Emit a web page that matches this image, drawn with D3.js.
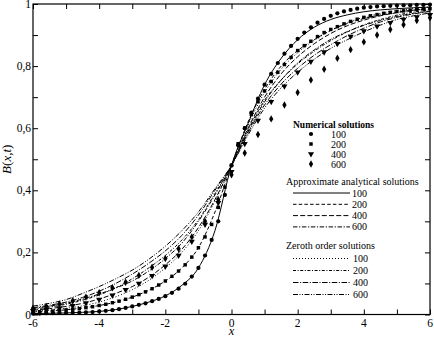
<!DOCTYPE html>
<html><head><meta charset="utf-8">
<script src="https://cdn.jsdelivr.net/npm/d3@7"></script>
<style>body{margin:0;background:#fff}svg{display:block}text{font-family:"Liberation Serif","Times New Roman",serif;fill:#000}</style>
</head><body><svg id="c" width="434" height="337"></svg>
<script>
// ---- data ----
const xTicks = [-6,-4,-2,0,2,4,6];
const yTicks = [0,0.2,0.4,0.6,0.8,1];
const yTickLabels = ["0","0,2","0,4","0,6","0,8","1"];
const times = ["100","200","400","600"];

const xLine = [-6,-5.5,-5,-4.5,-4,-3.5,-3,-2.5,-2,-1.5,-1,-0.5,0,0.5,1,1.5,2,2.5,3,3.5,4,4.5,5,5.5,6];
const approx100 = [.003,.004,.005,.007,.010,.016,.026,.040,.06,.094,.15,.27,.48,.615,.74,.825,.885,.925,.95,.965,.975,.981,.985,.988,.99];
const approx200 = [.008,.011,.015,.021,.029,.040,.056,.078,.108,.15,.215,.33,.48,.62,.725,.80,.85,.885,.915,.937,.953,.965,.974,.98,.985];
const approx400 = [.014,.019,.026,.036,.050,.068,.090,.12,.16,.21,.28,.37,.48,.60,.70,.775,.83,.872,.905,.93,.948,.962,.972,.98,.985];
const approx600 = [.020,.027,.036,.050,.066,.085,.108,.14,.18,.23,.30,.385,.48,.59,.685,.755,.81,.852,.886,.911,.931,.947,.96,.97,.977];
const zeroth100 = [.010,.014,.020,.028,.040,.057,.080,.11,.15,.20,.27,.365,.48,.61,.715,.79,.843,.883,.915,.94,.957,.97,.979,.985,.99];
const zeroth200 = [.017,.024,.033,.046,.063,.086,.115,.15,.19,.24,.305,.39,.48,.595,.69,.755,.807,.848,.882,.91,.933,.95,.964,.974,.981];
const zeroth400 = [.022,.030,.040,.055,.075,.10,.13,.165,.205,.255,.32,.40,.48,.585,.675,.742,.793,.835,.869,.898,.922,.942,.957,.968,.976];
const zeroth600 = [.027,.036,.048,.068,.09,.115,.143,.178,.22,.27,.33,.405,.48,.578,.665,.73,.78,.822,.857,.885,.91,.932,.95,.962,.971];

const xFine = [-6,-5.8,-5.6,-5.4,-5.2,-5,-4.8,-4.6,-4.4,-4.2,-4,-3.8,-3.6,-3.4,-3.2,-3,-2.8,-2.6,-2.4,-2.2,-2,-1.8,-1.6,-1.4,-1.2,-1,-0.8,-0.6,-0.4,-0.2,0,0.2,0.4,0.6,0.8,1,1.2,1.4,1.6,1.8,2,2.2,2.4,2.6,2.8,3,3.2,3.4,3.6,3.8,4,4.2,4.4,4.6,4.8,5,5.2,5.4,5.6,5.8,6];
const num100 = [.003,.003,.004,.004,.005,.005,.006,.006,.007,.008,.010,.012,.014,.017,.021,.026,.031,.036,.043,.050,.059,.07,.083,.099,.122,.15,.19,.24,.30,.385,.48,.545,.60,.65,.695,.74,.775,.81,.84,.865,.888,.908,.925,.94,.952,.962,.97,.976,.981,.985,.988,.99,.992,.993,.994,.995,.996,.996,.997,.997,.998];
const num200 = [.008,.009,.010,.011,.013,.015,.017,.019,.022,.025,.029,.033,.038,.043,.049,.056,.064,.073,.083,.095,.108,.123,.14,.16,.185,.215,.25,.29,.345,.41,.48,.55,.60,.645,.685,.72,.75,.78,.805,.828,.85,.866,.88,.895,.908,.918,.927,.936,.944,.951,.957,.962,.966,.97,.973,.976,.978,.98,.982,.984,.985];
const xCoarse = [-6,-5.6,-5.2,-4.8,-4.4,-4,-3.6,-3.2,-2.8,-2.4,-2,-1.6,-1.2,-0.8,-0.4,0,0.4,0.8,1.2,1.6,2,2.4,2.8,3.2,3.6,4,4.4,4.8,5.2,5.6,6];
const num400 = [.012,.016,.021,.028,.037,.048,.062,.08,.10,.125,.155,.19,.235,.29,.36,.46,.55,.625,.685,.735,.78,.815,.845,.872,.895,.913,.928,.94,.95,.958,.965];
const num600 = [.02,.026,.034,.044,.056,.07,.086,.104,.126,.152,.18,.212,.25,.30,.37,.45,.52,.58,.63,.675,.715,.755,.79,.825,.853,.878,.90,.918,.933,.947,.956];

// ---- chart ----
const svg = d3.select("#c");
const L=33, R=430, T=4, B=314.5;
const x = d3.scaleLinear().domain([-6,6]).range([L,R]);
const y = d3.scaleLinear().domain([0,1]).range([B,T]);

const line = d3.line().x(d=>x(d[0])).y(d=>y(d[1])).curve(d3.curveMonotoneX);
const lineSeries = [
  {xs:xLine, v:approx100, dash:null},
  {xs:xLine, v:approx200, dash:"3.5,2.2"},
  {xs:xLine, v:approx400, dash:"5,2.2"},
  {xs:xLine, v:approx600, dash:"4.5,1.6,1.2,1.6"},
  {xs:xLine, v:zeroth100, dash:"1,2"},
  {xs:xLine, v:zeroth200, dash:"3,1.6,1,1.6"},
  {xs:xLine, v:zeroth400, dash:"5.5,1.6,1,1.6"},
  {xs:xLine, v:zeroth600, dash:"5,1.5,1,1.5,1,1.5"}
];
const plot = svg.append("g");
plot.append("clipPath").attr("id","cp").append("rect").attr("x",L).attr("y",T).attr("width",R-L).attr("height",B-T);
const pg = plot.append("g").attr("clip-path","url(#cp)");
lineSeries.forEach(s=>{
  pg.append("path").datum(s.xs.map((xv,i)=>[xv,s.v[i]]))
    .attr("d",line).attr("fill","none").attr("stroke","#000").attr("stroke-width",1)
    .attr("stroke-dasharray",s.dash);
});

const sym = {
  circle: d3.symbol().type(d3.symbolCircle).size(14),
  square: d3.symbol().type(d3.symbolSquare).size(12),
  tri: d3.symbol().type(d3.symbolTriangle).size(16),
  diamond: d3.symbol().type(d3.symbolDiamond).size(16)
};
const markerSeries = [
  {xs:xFine, v:num100, s:sym.circle, rot:0},
  {xs:xFine, v:num200, s:sym.square, rot:0},
  {xs:xCoarse, v:num400, s:sym.tri, rot:180},
  {xs:xCoarse, v:num600, s:sym.diamond, rot:0}
];
markerSeries.forEach(m=>{
  svg.append("g").selectAll("path").data(m.xs.map((xv,i)=>[xv,m.v[i]])).join("path")
    .attr("d",m.s).attr("fill","#000")
    .attr("transform",d=>`translate(${x(d[0])},${y(d[1])}) rotate(${m.rot})`);
});

// axes (ticks inward on all sides)
const minorX = d3.range(-6,6.01,1), minorY = d3.range(0,1.001,0.1);
svg.append("g").attr("transform",`translate(0,${B})`).call(d3.axisBottom(x).tickValues(minorX).tickSize(-5).tickFormat(""))
  .call(g=>g.select(".domain").remove());
svg.append("g").attr("transform",`translate(0,${T})`).call(d3.axisTop(x).tickValues(minorX).tickSize(-5).tickFormat(""))
  .call(g=>g.select(".domain").remove());
svg.append("g").attr("transform",`translate(${L},0)`).call(d3.axisLeft(y).tickValues(minorY).tickSize(-5).tickFormat(""))
  .call(g=>g.select(".domain").remove());
svg.append("g").attr("transform",`translate(${R},0)`).call(d3.axisRight(y).tickValues(minorY).tickSize(-5).tickFormat(""))
  .call(g=>g.select(".domain").remove());
svg.append("rect").attr("x",L).attr("y",T).attr("width",R-L).attr("height",B-T).attr("fill","none").attr("stroke","#000").attr("stroke-width",1.2);

// tick labels
svg.append("g").selectAll("text").data(xTicks).join("text")
  .attr("x",d=>x(d)).attr("y",B+12.5).attr("text-anchor","middle").attr("font-size",11.5).text(d=>String(d));
svg.append("g").selectAll("text").data(yTicks).join("text")
  .attr("x",L-2).attr("y",d=>y(d)+4).attr("text-anchor","end").attr("font-size",11.5).text((d,i)=>yTickLabels[i]);
svg.append("text").attr("x",x(0)).attr("y",335).attr("text-anchor","middle").attr("font-size",12.5).attr("font-style","italic").text("x");
svg.append("text").attr("transform",`translate(11,${y(0.5)}) rotate(-90)`).attr("text-anchor","middle").attr("font-size",13)
  .html('<tspan font-style="italic">B</tspan>(<tspan font-style="italic">x</tspan>,<tspan font-style="italic">t</tspan>)');

// legend
const lg = svg.append("g");
lg.append("text").attr("x",293).attr("y",128).attr("font-size",9.5).attr("font-weight","bold").text("Numerical solutions");
const legSyms = [sym.circle, sym.square, sym.tri, sym.diamond];
times.forEach((t,i)=>{
  const yy = 134 + i*10;
  lg.append("path").attr("d",legSyms[i]).attr("fill","#000").attr("transform",`translate(311,${yy}) rotate(${i===2?180:0})`);
  lg.append("text").attr("x",331).attr("y",yy+3.5).attr("font-size",10).text(t);
});
lg.append("text").attr("x",286).attr("y",185).attr("font-size",10).text("Approximate analytical solutions");
lineSeries.slice(0,4).forEach((s,i)=>{
  const yy = 193 + i*11.3;
  lg.append("line").attr("x1",293).attr("x2",350).attr("y1",yy).attr("y2",yy).attr("stroke","#000").attr("stroke-dasharray",s.dash);
  lg.append("text").attr("x",352).attr("y",yy+3.5).attr("font-size",10).text(times[i]);
});
lg.append("text").attr("x",286).attr("y",249).attr("font-size",10).text("Zeroth order solutions");
lineSeries.slice(4).forEach((s,i)=>{
  const yy = 258.5 + i*12;
  lg.append("line").attr("x1",293).attr("x2",350).attr("y1",yy).attr("y2",yy).attr("stroke","#000").attr("stroke-dasharray",s.dash);
  lg.append("text").attr("x",353).attr("y",yy+3.5).attr("font-size",10).text(times[i]);
});
</script></body></html>
